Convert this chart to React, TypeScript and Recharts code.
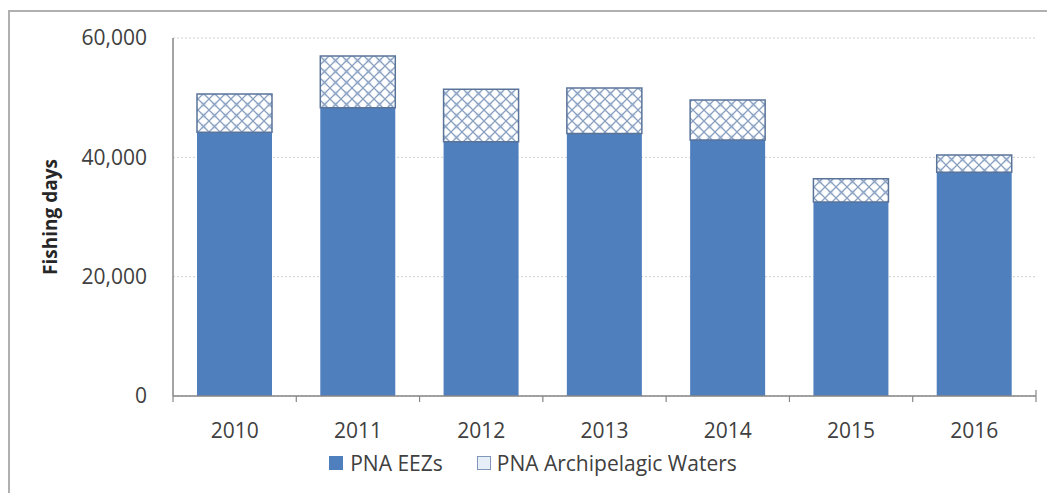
import React from "react";
import { BarChart, Bar, XAxis, YAxis, CartesianGrid, Legend } from "recharts";

const years = ["2010", "2011", "2012", "2013", "2014", "2015", "2016"];
const eezDays = [44200, 48300, 42600, 44000, 42900, 32500, 37500];
const archipelagicDays = [6400, 8700, 8800, 7600, 6700, 3900, 2900];
const yTicks = [0, 20000, 40000, 60000];

const data = years.map((y, i) => ({
  year: y,
  eez: eezDays[i],
  arch: archipelagicDays[i],
}));

const FONT = "'Open Sans', 'Noto Sans', sans-serif";
const EEZ_COLOR = "#4f7fbd";
const X_TICK_MARGIN = 27;

const fmt = (v: number) => v.toLocaleString("en-US");

const YearTick = (props: any) => {
  const { x, y, payload, index } = props;
  const half = payload && payload.offset ? payload.offset : 0;
  const axisY = y - X_TICK_MARGIN;
  const isLast = index === years.length - 1;
  return (
    <g>
      <line x1={x - half} x2={x - half} y1={axisY} y2={axisY + 6} stroke="#868686" strokeWidth={1.2} />
      {isLast && (
        <line x1={x + half} x2={x + half} y1={axisY - 6} y2={axisY + 6} stroke="#868686" strokeWidth={1.2} />
      )}
      <text x={x} y={y} dy="0.71em" textAnchor="middle" fill="#404040" fontSize={21} fontFamily={FONT}>
        {payload.value}
      </text>
    </g>
  );
};

const LegendContent = () => (
  <div
    style={{
      height: 40,
      display: "flex",
      justifyContent: "center",
      alignItems: "flex-start",
      fontFamily: FONT,
      fontSize: 21,
      color: "#404040",
      paddingLeft: 30,
      boxSizing: "border-box",
    }}
  >
    <div style={{ display: "flex", alignItems: "center", marginTop: 21, height: 22 }}>
      <span style={{ width: 14, height: 14, background: EEZ_COLOR, display: "inline-block", marginRight: 7 }} />
      <span>PNA EEZs</span>
      <span
        style={{
          width: 12,
          height: 12,
          display: "inline-block",
          marginLeft: 34,
          marginRight: 6,
          border: "1px solid #7f96b8",
          background: "#e6eef8",
        }}
      />
      <span>PNA Archipelagic Waters</span>
    </div>
  </div>
);

export default function App() {
  return (
    <div style={{ position: "absolute", left: 0, top: 0, width: 1047, height: 493, background: "#fff" }}>
      <div
        style={{
          position: "absolute",
          left: 8,
          top: 10,
          width: 1039,
          height: 483,
          borderTop: "2px solid #b0b0b0",
          borderLeft: "2px solid #b0b0b0",
          boxSizing: "border-box",
        }}
      />
      <BarChart
        width={1047}
        height={493}
        data={data}
        margin={{ top: 38, right: 11, left: 0, bottom: 22 }}
        style={{ position: "absolute", left: 0, top: 0 }}
      >
        <defs>
          <pattern id="archHatch" width="11" height="11" patternUnits="userSpaceOnUse">
            <rect width="11" height="11" fill="#ffffff" />
            <circle cx="5.5" cy="5.5" r="3" fill="#e3ecf7" />
            <path d="M0,0 L11,11 M11,0 L0,11" stroke="#8aa0c0" strokeWidth="1.3" />
          </pattern>
        </defs>
        <CartesianGrid vertical={false} stroke="#d0d0d0" strokeDasharray="2 2" />
        <XAxis
          dataKey="year"
          height={35}
          axisLine={{ stroke: "#868686", strokeWidth: 1.5 }}
          tickLine={false}
          tickSize={0}
          tickMargin={X_TICK_MARGIN}
          interval={0}
          tick={<YearTick />}
        />
        <YAxis
          width={173}
          domain={[0, 60000]}
          ticks={yTicks}
          tickFormatter={fmt}
          axisLine={{ stroke: "#868686", strokeWidth: 1.5 }}
          tickLine={false}
          tickSize={0}
          tickMargin={26}
          tick={{ fill: "#404040", fontSize: 21, fontFamily: FONT }}
          label={{
            value: "Fishing days",
            angle: -90,
            position: "insideLeft",
            offset: 50,
            style: { fill: "#262626", fontSize: 19, fontWeight: 700, fontFamily: FONT, textAnchor: "middle" },
          }}
        />
        <Legend verticalAlign="bottom" height={40} content={<LegendContent />} />
        <Bar dataKey="eez" name="PNA EEZs" stackId="a" fill={EEZ_COLOR} barSize={75} isAnimationActive={false} />
        <Bar
          dataKey="arch"
          name="PNA Archipelagic Waters"
          stackId="a"
          fill="url(#archHatch)"
          stroke="#5a7399"
          strokeWidth={1.5}
          barSize={75}
          isAnimationActive={false}
        />
      </BarChart>
    </div>
  );
}
